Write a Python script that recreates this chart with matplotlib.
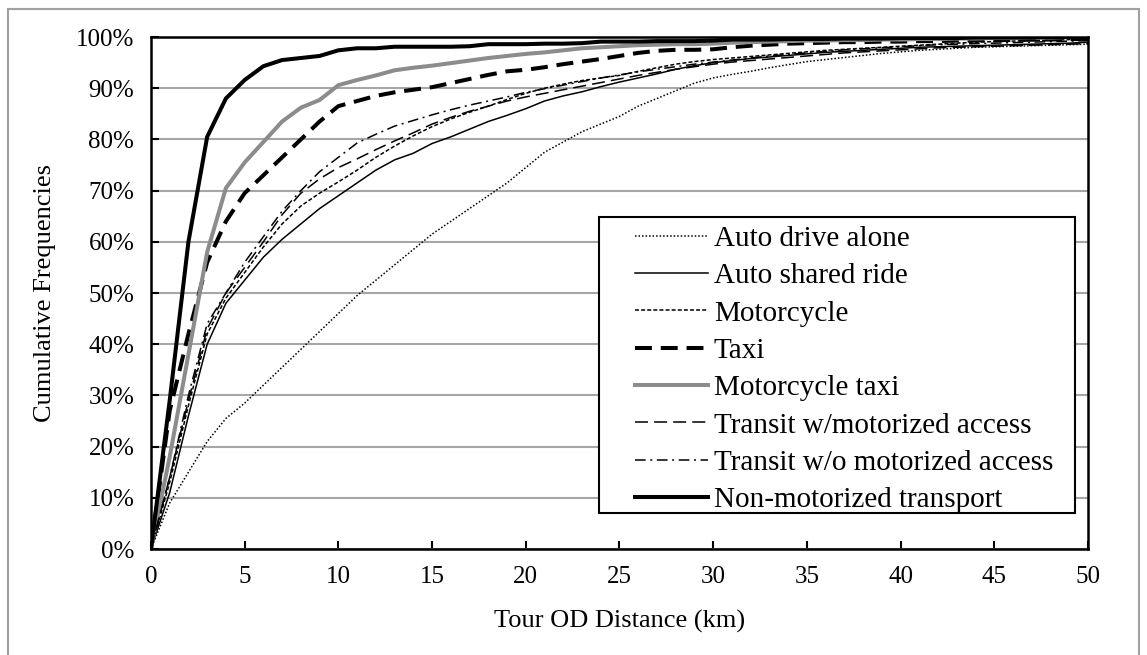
import matplotlib
matplotlib.use("Agg")
import matplotlib.pyplot as plt
from matplotlib.patches import Rectangle
from matplotlib.ticker import FuncFormatter, MultipleLocator

plt.rcParams["font.family"] = ["Liberation Serif", "DejaVu Serif"]

km = list(range(0, 51))

# cumulative frequencies (%), one value per km
auto_alone = [0, 9, 15, 21, 25.5, 28.5, 32, 35.5, 39, 42.5, 46, 49.5, 52.5, 55.5, 58.5,
              61.5, 64, 66.5, 69, 71.5, 74.5, 77.5, 79.5, 81.5, 83, 84.5, 86.5, 88, 89.5,
              91, 92, 92.7, 93.3, 94, 94.6, 95.2, 95.6, 96, 96.4, 96.8, 97.1, 97.4, 97.6,
              97.8, 98, 98.1, 98.2, 98.3, 98.4, 98.5, 98.6]
auto_shared = [0, 11, 26, 40, 48, 52.5, 57, 60.5, 63.5, 66.5, 69, 71.5, 74, 76, 77.3,
               79.2, 80.5, 82, 83.5, 84.7, 86, 87.5, 88.5, 89.3, 90.3, 91.2, 92, 92.8,
               93.7, 94.4, 95, 95.4, 95.8, 96.1, 96.4, 96.7, 97, 97.2, 97.4, 97.6, 97.8,
               98, 98.1, 98.2, 98.3, 98.4, 98.5, 98.6, 98.7, 98.8, 99]
motorcycle = [0, 13, 28, 42, 49, 54, 59, 63.5, 67, 69.5, 71.7, 74, 76.5, 78.7, 80.7,
              82.5, 84, 85.3, 86.5, 87.8, 89, 90, 90.8, 91.5, 92, 92.5, 93.3, 94, 94.7,
              95.2, 95.6, 95.9, 96.2, 96.5, 96.8, 97.1, 97.4, 97.6, 97.8, 98, 98.2, 98.4,
              98.6, 98.8, 99, 99.1, 99.2, 99.3, 99.4, 99.5, 99.6]
taxi = [0, 27, 42, 56, 64, 69.5, 73, 76.5, 80, 83.5, 86.5, 87.5, 88.5, 89.2, 89.7, 90.2,
        91, 91.8, 92.6, 93.3, 93.6, 94.1, 94.7, 95.2, 95.7, 96.3, 96.9, 97.3, 97.5, 97.5,
        97.6, 98, 98.3, 98.5, 98.7, 98.8, 98.9, 99, 99, 99.1, 99.1, 99.2, 99.2, 99.3,
        99.3, 99.4, 99.4, 99.5, 99.5, 99.6, 99.6]
moto_taxi = [0, 18, 38, 58, 70.5, 75.5, 79.5, 83.5, 86.2, 87.7, 90.6, 91.6, 92.5, 93.5,
             94, 94.4, 94.9, 95.4, 95.9, 96.3, 96.7, 97, 97.4, 97.8, 98, 98.2, 98.4, 98.5,
             98.6, 98.6, 98.7, 98.9, 99, 99.1, 99.2, 99.3, 99.3, 99.4, 99.4, 99.5, 99.5,
             99.6, 99.6, 99.7, 99.7, 99.8, 99.8, 99.9, 99.9, 100, 100]
transit_motor = [0, 14, 29, 43, 50, 55, 60, 65.3, 69.5, 72.3, 74.5, 76.2, 78, 79.7, 81.3,
                 83, 84.3, 85.5, 86.5, 87.5, 88.3, 89, 89.7, 90.4, 91.1, 91.8, 92.5, 93.1,
                 93.7, 94.2, 94.7, 95.1, 95.4, 95.7, 96, 96.3, 96.6, 96.9, 97.1, 97.3, 97.5,
                 97.7, 97.9, 98, 98.1, 98.2, 98.3, 98.4, 98.5, 98.6, 98.7]
transit_nomotor = [0, 14, 30, 44, 50, 56, 61, 66, 70, 73.7, 76.5, 79.3, 81, 82.6, 83.7,
                   84.8, 85.8, 86.7, 87.5, 88.3, 89.2, 89.9, 90.6, 91.3, 92, 92.6, 93.2,
                   93.7, 94.2, 94.7, 95.1, 95.5, 95.9, 96.3, 96.6, 96.9, 97.2, 97.5, 97.7,
                   97.9, 98.1, 98.3, 98.5, 98.6, 98.7, 98.8, 98.9, 99, 99.1, 99.2, 99.3]
non_motor = [0, 29, 60, 80.5, 88, 91.6, 94.3, 95.5, 95.9, 96.3, 97.4, 97.8, 97.8, 98.1,
             98.1, 98.1, 98.1, 98.2, 98.6, 98.6, 98.6, 98.7, 98.7, 98.8, 99.1, 99.1, 99.1,
             99.2, 99.2, 99.2, 99.3, 99.5, 99.5, 99.5, 99.6, 99.6, 99.6, 99.7, 99.7, 99.7,
             99.8, 99.8, 99.8, 99.8, 99.9, 99.9, 99.9, 99.9, 100, 100, 100]

labels = ["Auto drive alone", "Auto shared ride", "Motorcycle", "Taxi", "Motorcycle taxi",
          "Transit w/motorized access", "Transit w/o motorized access",
          "Non-motorized transport"]

fig = plt.figure(figsize=(11.47, 6.55), dpi=100)
ax = fig.add_axes([0.1316, 0.1618, 0.8170, 0.7817])

# outer frame of the figure
fig.patches.append(Rectangle((0.007, -0.02), 0.986, 1.006, transform=fig.transFigure,
                             fill=False, edgecolor="#a0a0a0", lw=1.5))

ax.plot(km, auto_alone, color="black", lw=1.1, ls=(0, (1, 1.3)), label=labels[0])
ax.plot(km, auto_shared, color="black", lw=1.1, ls="-", label=labels[1])
ax.plot(km, motorcycle, color="black", lw=1.1, ls=(0, (2.6, 1.4)), label=labels[2])
ax.plot(km, taxi, color="black", lw=2.9, ls=(0, (4.2, 2.2)), label=labels[3])
ax.plot(km, moto_taxi, color="#8c8c8c", lw=2.9, ls="-", label=labels[4])
ax.plot(km, transit_motor, color="black", lw=1.1, ls=(0, (8.5, 4)), label=labels[5])
ax.plot(km, transit_nomotor, color="black", lw=1.1, ls=(0, (7, 3, 1.3, 3)), label=labels[6])
ax.plot(km, non_motor, color="black", lw=2.9, ls="-", label=labels[7])

ax.set_xlim(0, 50)
ax.set_ylim(0, 100)
ax.xaxis.set_major_locator(MultipleLocator(5))
ax.yaxis.set_major_locator(MultipleLocator(10))
ax.yaxis.set_major_formatter(FuncFormatter(lambda v, p: f"{int(v)}%"))
ax.grid(axis="y", color="#a6a6a6", lw=1.5)
ax.set_axisbelow(True)
ax.tick_params(direction="in", length=6, width=1.5, labelsize=18, pad=12)
for s in ax.spines.values():
    s.set_linewidth(1.8)

ax.set_xlabel("Tour OD Distance (km)", fontsize=19, labelpad=16)
ax.set_ylabel("Cumulative Frequencies", fontsize=19, labelpad=14)

# legend box drawn separately so the side padding can be wider than top/bottom
ax.add_patch(Rectangle((0.478, 0.0705), 0.508, 0.5775, transform=ax.transAxes,
                       facecolor="white", edgecolor="black", lw=1.5, zorder=4))
leg = ax.legend(loc="upper left", bbox_to_anchor=(0.5165, 0.632), borderaxespad=0,
                fontsize=21, frameon=False, handlelength=2.5, handletextpad=0.2,
                labelspacing=0.375, borderpad=0)
leg.set_zorder(5)

fig.savefig("out.png", dpi=100)
plt.close(fig)
